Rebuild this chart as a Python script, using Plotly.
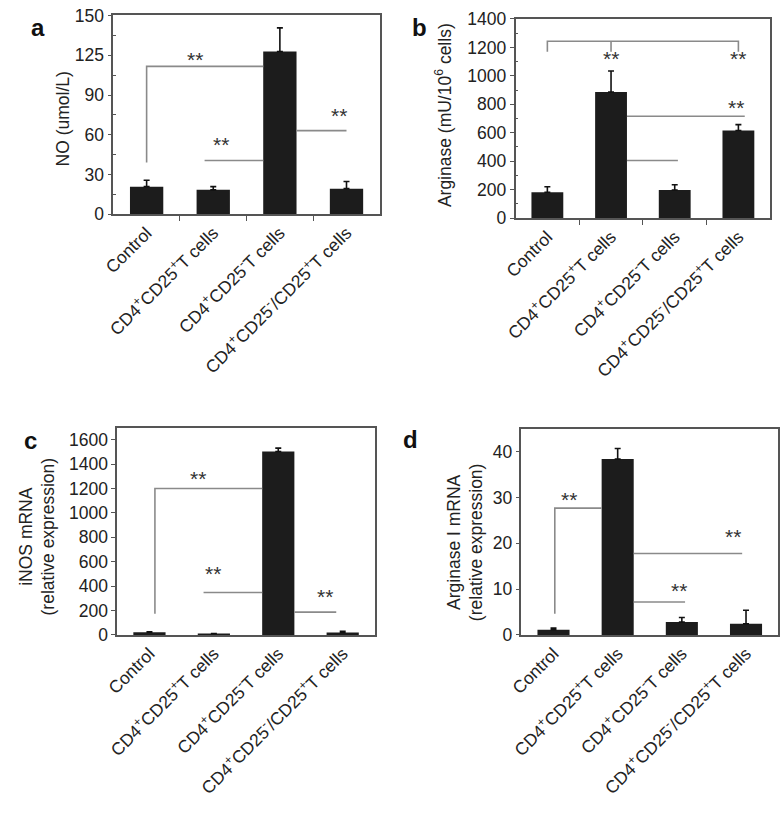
import plotly.graph_objects as go

# ---------------- data ----------------
categories = ["Control",
              "CD4<sup>+</sup>CD25<sup>+</sup>T cells",
              "CD4<sup>+</sup>CD25<sup>-</sup>T cells",
              "CD4<sup>+</sup>CD25<sup>-</sup>/CD25<sup>+</sup>T cells"]
xpos = [0, 1, 2, 3]

no_vals = [20.8, 18.4, 122.8, 19.3]
no_err = [4.9, 2.4, 17.9, 5.4]
no_ticks = [0, 30, 60, 90, 120, 150]
no_ticktext = ["0", "30", "60", "90", "125", "150"]

arg_vals = [182, 886, 198, 616]
arg_err = [38, 148, 36, 41]
arg_ticks = [0, 200, 400, 600, 800, 1000, 1200, 1400]

inos_vals = [22, 12, 1502, 20]
inos_err = [4, 0, 28, 10]
inos_ticks = [0, 200, 400, 600, 800, 1000, 1200, 1400, 1600]

arg1_vals = [1.15, 38.4, 2.8, 2.45]
arg1_err = [0.35, 2.3, 1.0, 2.95]
arg1_ticks = [0, 10, 20, 30, 40]

# significance brackets (polylines in data units) and "**" positions
a_lines = [([0, 0, 1.75], [39, 111.6, 111.6]),
           ([0.87, 1.75], [40.6, 40.6]),
           ([2.25, 3.0], [63.1, 63.1])]
a_stars = [(0.72, 117), (1.12, 52.6), (2.88, 74.9)]

b_lines = [([0, 0, 3, 3], [1170, 1243, 1243, 1170]),
           ([1, 1], [1243, 1170]),
           ([1.25, 3.1], [716, 716]),
           ([1.25, 2.05], [405, 405])]
b_stars = [(1, 1119), (3, 1119), (2.96, 780)]

c_lines = [([0.085, 0.085, 1.75], [174, 1200, 1200]),
           ([0.84, 1.75], [347, 347]),
           ([2.25, 2.9], [187, 187])]
c_stars = [(0.75, 1280), (0.98, 507), (2.72, 312)]

d_lines = [([0.02, 0.02, 0.75], [4.6, 27.7, 27.7]),
           ([1.25, 2.94], [17.8, 17.8]),
           ([1.25, 2.05], [7.2, 7.2])]
d_stars = [(0.24, 29.6), (2.79, 21.5), (1.95, 9.7)]

# ---------------- styling ----------------
FONT = "Liberation Sans, Arial, sans-serif"
FS = 17.5
BAR = "#1c1c1c"
LINE = "#8a8a8a"
FRAME = "#555555"

W, H = 784, 823

def px_x(p):
    return p / W

def px_y(p):
    return 1 - p / H

panels = [
    dict(vals=no_vals, err=no_err, lines=a_lines, stars=a_stars,
         x=(102, 373), y=(209.3, 5), rng=[0, 150.5], ticks=no_ticks, ticktext=no_ticktext,
         minor=[15, 45, 75, 105, 135], xticks=True),
    dict(vals=arg_vals, err=arg_err, lines=b_lines, stars=b_stars,
         x=(511, 770), y=(213.3, 9), rng=[0, 1401], ticks=arg_ticks, ticktext=None,
         minor=[100, 300, 500, 700, 900, 1100, 1300], xticks=True),
    dict(vals=inos_vals, err=inos_err, lines=c_lines, stars=c_stars,
         x=(106, 368), y=(640.5, 428.3), rng=[0, 1696], ticks=inos_ticks, ticktext=None,
         minor=None, xticks=False),
    dict(vals=arg1_vals, err=arg1_err, lines=d_lines, stars=d_stars,
         x=(517, 778), y=(640.5, 429.3), rng=[0, 45], ticks=arg1_ticks, ticktext=None,
         minor=None, xticks=False),
]

fig = go.Figure()
layout = dict(width=W, height=H, margin=dict(l=0, r=0, t=0, b=0, pad=0), autosize=False,
              paper_bgcolor="white", plot_bgcolor="white", showlegend=False,
              font=dict(family=FONT, size=FS, color="#222222"))
annotations = []

for i, p in enumerate(panels):
    k = "" if i == 0 else str(i + 1)
    xa, ya = "x" + k, "y" + k
    fig.add_trace(go.Bar(x=xpos, y=p["vals"], width=0.5, marker=dict(color=BAR, line=dict(width=0)),
                         error_y=dict(type="data", array=p["err"], arrayminus=[0] * 4, symmetric=False,
                                      color="#111111", thickness=1.6, width=3),
                         xaxis=xa, yaxis=ya, hoverinfo="skip"))
    for lx, ly in p["lines"]:
        fig.add_trace(go.Scatter(x=lx, y=ly, mode="lines", line=dict(color=LINE, width=1.6),
                                 xaxis=xa, yaxis=ya, hoverinfo="skip"))
    for sx, sy in p["stars"]:
        annotations.append(dict(x=sx, y=sy, xref=xa, yref=ya, text="**", showarrow=False,
                                font=dict(size=21, color="#333333"), yanchor="middle", xanchor="center"))
    xaxis = dict(domain=[px_x(p["x"][0]), px_x(p["x"][1])], range=[-0.5, 3.5],
                 tickmode="array", tickvals=xpos, ticktext=categories, tickangle=-45,
                 ticks="", showline=True, mirror=True, linecolor=FRAME, linewidth=1.5,
                 showgrid=False, zeroline=False, anchor=ya, fixedrange=True,
                 ticklabeloverflow="allow",
                 tickfont=dict(size=FS, family=FONT, color="#222222"))
    if p["xticks"]:
        xaxis["minor"] = dict(tickmode="array", tickvals=[0.5, 1.5, 2.5], ticks="outside",
                              ticklen=5, tickcolor=FRAME, tickwidth=1.2, showgrid=False)
    yaxis = dict(domain=[px_y(p["y"][0]), px_y(p["y"][1])], range=p["rng"],
                 tickmode="array", tickvals=p["ticks"],
                 ticks="outside", ticklen=4, tickcolor=FRAME, tickwidth=1.2,
                 showline=True, mirror=True, linecolor=FRAME, linewidth=1.5,
                 showgrid=False, zeroline=False, anchor=xa, fixedrange=True,
                 ticklabeloverflow="allow",
                 tickfont=dict(size=FS, family=FONT, color="#222222"))
    if p["ticktext"] is not None:
        yaxis["ticktext"] = p["ticktext"]
    if p["minor"] is not None:
        yaxis["minor"] = dict(tickmode="array", tickvals=p["minor"], ticks="inside",
                              ticklen=3, tickcolor=FRAME, tickwidth=1, showgrid=False)
    layout["xaxis" + k] = xaxis
    layout["yaxis" + k] = yaxis

# y-axis titles
ytitles = [("NO (umol/L)", 51, 112),
           ("Arginase (mU/10<sup>6</sup> cells)", 438, 108),
           ("iNOS mRNA<br>(relative expression)", 25, 540),
           ("Arginase I mRNA<br>(relative expression)", 460, 545)]
for t, xx, yy in ytitles:
    annotations.append(dict(x=px_x(xx), y=px_y(yy), xref="paper", yref="paper", text=t,
                            textangle=-90, showarrow=False, xanchor="center", yanchor="middle",
                            font=dict(size=FS, color="#222222")))

# panel letters
letters = [("a", 25, 18), ("b", 413, 18), ("c", 18, 441), ("d", 404, 440)]
for t, xx, yy in letters:
    annotations.append(dict(x=px_x(xx), y=px_y(yy), xref="paper", yref="paper", text="<b>%s</b>" % t,
                            showarrow=False, xanchor="center", yanchor="middle",
                            font=dict(size=24, color="#111111")))

layout["annotations"] = annotations
fig.update_layout(**layout)
fig.write_html("out.html", config={"displayModeBar": False},
               post_script="document.body.style.margin='0px';document.body.style.overflow='hidden';")
